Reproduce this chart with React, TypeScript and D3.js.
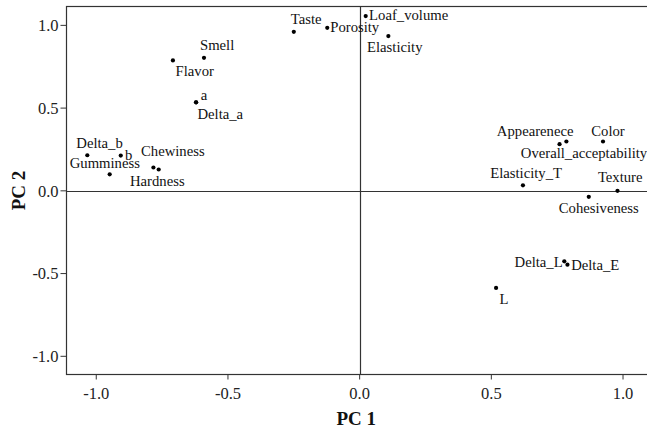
import * as d3 from 'd3';
import { useEffect, useRef } from 'react';

// PCA loadings
const variables = [
  'Taste', 'Porosity', 'Loaf_volume', 'Elasticity', 'Smell', 'Flavor', 'a', 'Delta_a',
  'Delta_b', 'b', 'Gumminess', 'Chewiness', 'Hardness', 'Appearenece', 'Overall_acceptability',
  'Color', 'Elasticity_T', 'Texture', 'Cohesiveness', 'Delta_L', 'Delta_E', 'L',
];
const pc1 = [
  -0.25, -0.123, 0.023, 0.109, -0.591, -0.709, -0.621, -0.621,
  -1.034, -0.907, -0.949, -0.783, -0.763, 0.759, 0.785,
  0.924, 0.62, 0.979, 0.87, 0.777, 0.789, 0.518,
];
const pc2 = [
  0.961, 0.985, 1.056, 0.935, 0.804, 0.788, 0.535, 0.535,
  0.215, 0.213, 0.1, 0.141, 0.129, 0.282, 0.298,
  0.298, 0.033, 0.0, -0.036, -0.426, -0.446, -0.587,
];
const xTicks = [-1.0, -0.5, 0.0, 0.5, 1.0];
const yTicks = [-1.0, -0.5, 0.0, 0.5, 1.0];

// label placement relative to its point (px): dx, dy, anchor
const labelPos: Record<string, [number, number, string]> = {
  Taste: [-3, -8, 'start'],
  Porosity: [3, 3.7, 'start'],
  Loaf_volume: [3.4, 4.3, 'start'],
  Elasticity: [-21.3, 16, 'start'],
  Smell: [-4, -7.3, 'start'],
  Flavor: [2.7, 16, 'start'],
  a: [4.7, -2.7, 'start'],
  Delta_a: [1.4, 17, 'start'],
  Delta_b: [-11, -7.7, 'start'],
  b: [4.3, 4, 'start'],
  Gumminess: [-40, -6.3, 'start'],
  Chewiness: [-12.4, -11.3, 'start'],
  Hardness: [-28.7, 16.7, 'start'],
  Appearenece: [-62.7, -8, 'start'],
  Overall_acceptability: [-45.6, 16, 'start'],
  Color: [-11.7, -5.3, 'start'],
  Elasticity_T: [-32.7, -7, 'start'],
  Texture: [-19.6, -9, 'start'],
  Cohesiveness: [-30, 16.6, 'start'],
  Delta_L: [-1.6, 5.3, 'end'],
  Delta_E: [3.7, 5.3, 'start'],
  L: [3.4, 16, 'start'],
};

const W = 647;
const H = 428;
const FONT = '"Liberation Serif", "Times New Roman", serif';

// SPSS style: plain hyphen for negatives
const fmt = (d: number) => d3.format('.1f')(d).replace('\u2212', '-');

export default function App() {
  const svgRef = useRef<SVGSVGElement>(null);

  useEffect(() => {
    if (!svgRef.current) return;
    const svg = d3.select(svgRef.current);
    svg.selectAll('*').remove();

    const left = 66.5;
    const right = 652;
    const top = 6.5;
    const bottom = 374.5;

    const x = d3.scaleLinear().domain([-1.113, 1.11]).range([left, right]);
    const y = d3.scaleLinear().domain([-1.11, 1.114]).range([bottom, top]);

    const axisColor = '#333';

    // frame
    svg.append('rect')
      .attr('x', left)
      .attr('y', top)
      .attr('width', right - left)
      .attr('height', bottom - top)
      .attr('fill', 'none')
      .attr('stroke', axisColor)
      .attr('stroke-width', 1.2);

    // zero reference lines
    svg.append('line')
      .attr('x1', left).attr('x2', right)
      .attr('y1', Math.round(y(0)) + 0.5).attr('y2', Math.round(y(0)) + 0.5)
      .attr('stroke', axisColor).attr('stroke-width', 1.2);
    svg.append('line')
      .attr('x1', Math.round(x(0)) + 0.5).attr('x2', Math.round(x(0)) + 0.5)
      .attr('y1', top).attr('y2', bottom)
      .attr('stroke', axisColor).attr('stroke-width', 1.2);

    // x axis ticks
    const xg = svg.append('g');
    xg.selectAll('line')
      .data(xTicks)
      .join('line')
      .attr('x1', (d) => x(d)).attr('x2', (d) => x(d))
      .attr('y1', bottom).attr('y2', bottom + 5)
      .attr('stroke', axisColor);
    xg.selectAll('text')
      .data(xTicks)
      .join('text')
      .attr('x', (d) => x(d))
      .attr('y', 398.5)
      .attr('text-anchor', 'middle')
      .attr('font-family', FONT)
      .attr('font-size', 16.5)
      .attr('fill', '#222')
      .text(fmt);

    // y axis ticks
    const yg = svg.append('g');
    yg.selectAll('line')
      .data(yTicks)
      .join('line')
      .attr('x1', left - 6).attr('x2', left)
      .attr('y1', (d) => y(d)).attr('y2', (d) => y(d))
      .attr('stroke', axisColor);
    yg.selectAll('text')
      .data(yTicks)
      .join('text')
      .attr('x', left - 8)
      .attr('y', (d) => y(d))
      .attr('dy', '0.35em')
      .attr('text-anchor', 'end')
      .attr('font-family', FONT)
      .attr('font-size', 16.5)
      .attr('fill', '#222')
      .text(fmt);

    // axis titles
    svg.append('text')
      .attr('x', (left + 646) / 2)
      .attr('y', 424.5)
      .attr('text-anchor', 'middle')
      .attr('font-family', FONT)
      .attr('font-size', 19)
      .attr('font-weight', 'bold')
      .attr('fill', '#111')
      .text('PC 1');
    svg.append('text')
      .attr('transform', `translate(25,${(top + bottom) / 2}) rotate(-90)`)
      .attr('text-anchor', 'middle')
      .attr('font-family', FONT)
      .attr('font-size', 19)
      .attr('font-weight', 'bold')
      .attr('fill', '#111')
      .text('PC 2');

    const pts = variables.map((name, i) => ({ name, v1: pc1[i], v2: pc2[i] }));

    // points
    svg.append('g')
      .selectAll('circle')
      .data(pts)
      .join('circle')
      .attr('cx', (d) => x(d.v1))
      .attr('cy', (d) => y(d.v2))
      .attr('r', 2.1)
      .attr('fill', '#000');

    // labels
    svg.append('g')
      .selectAll('text')
      .data(pts)
      .join('text')
      .attr('x', (d) => x(d.v1) + labelPos[d.name][0])
      .attr('y', (d) => y(d.v2) + labelPos[d.name][1])
      .attr('text-anchor', (d) => labelPos[d.name][2])
      .attr('font-family', FONT)
      .attr('font-size', 14.7)
      .attr('fill', '#111')
      .text((d) => d.name);
  }, []);

  return (
    <svg
      ref={svgRef}
      width={W}
      height={H}
      style={{ position: 'absolute', left: 0, top: 0, background: '#fff', overflow: 'hidden' }}
    />
  );
}
